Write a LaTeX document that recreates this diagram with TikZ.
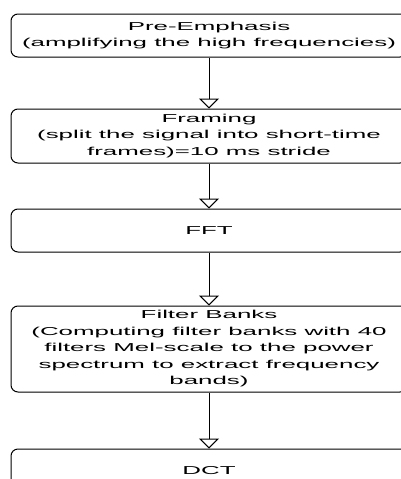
\documentclass[tikz,border=0pt]{standalone}
\usepackage{fontspec}
\newfontfamily\flowfont[FakeStretch=2.25]{Liberation Sans}
\usetikzlibrary{arrows.meta, positioning}

\begin{document}
\begin{tikzpicture}[
        x=1pt, y=1pt,
        node distance=51pt,
        box/.style={rectangle, draw=black, line width=1pt, fill=white,
            minimum width=396pt, minimum height=43pt, inner sep=2pt, align=center,
            rounded corners=7pt, font=\flowfont\fontsize{11.5}{16.5}\selectfont},
        arrow/.style={line width=1pt, -{Triangle[open, length=10pt, width=20pt]}}
    ]
        \useasboundingbox (0,0) rectangle (401,-479);
        \node[box] (pre) at (209,-35.5) {Pre-Emphasis\\(amplifying the high frequencies)};
        \node[box, minimum height=54pt, below=of pre] (frame) {Framing\\(split the signal into short-time\\frames)=10 ms stride};
        \node[box, below=45pt of frame] (fft) {FFT};
        \node[box, minimum height=86pt, below=53pt of fft] (bank) {Filter Banks\\(Computing filter banks with 40\\filters Mel-scale to the power\\spectrum to extract frequency\\bands)};
        \node[box, below=56pt of bank] (dct) {DCT};

        \draw[arrow] (pre) -- (frame);
        \draw[arrow] (frame) -- (fft);
        \draw[arrow] (fft) -- (bank);
        \draw[arrow] (bank) -- (dct);
    \end{tikzpicture}
\end{document}
